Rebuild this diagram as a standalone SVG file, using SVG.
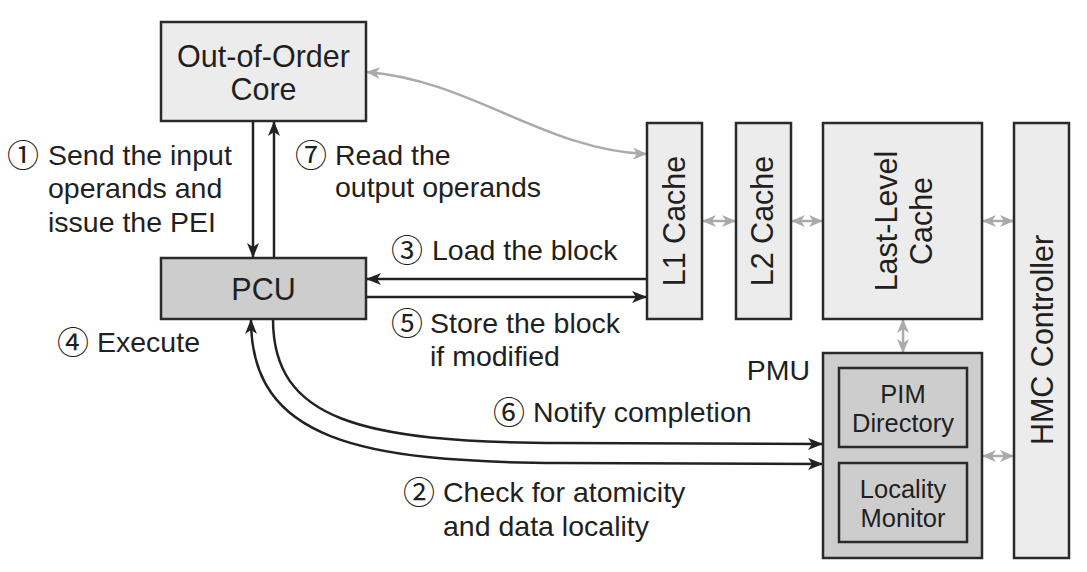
<svg xmlns="http://www.w3.org/2000/svg" width="1087" height="572" viewBox="0 0 1087 572">
<style>
.box{fill:#ececec;stroke:#2a2a2a;stroke-width:2.5}
.dark{fill:#cdcdcd;stroke:#2a2a2a;stroke-width:2.5}
.nt{font-family:"Liberation Sans","Noto Sans CJK JP",sans-serif;font-size:30.5px;fill:#231f20;text-anchor:middle}
.sm{font-family:"Liberation Sans","Noto Sans CJK JP",sans-serif;font-size:25.5px;fill:#231f20;text-anchor:middle}
.lb{font-family:"Liberation Sans","Noto Sans CJK JP",sans-serif;font-size:28.5px;fill:#231f20}
.cd{font-size:32px}
.blk{fill:none;stroke:#222;stroke-width:2.5}
.gry{fill:none;stroke:#aaa;stroke-width:2.5}
</style>
<defs>
<marker id="ab" markerUnits="userSpaceOnUse" markerWidth="15" markerHeight="12" refX="14" refY="6" orient="auto-start-reverse" viewBox="0 0 15 12">
<path d="M0,0 L15,6 L0,12 L4,6 z" fill="#222"/>
</marker>
<marker id="ag" markerUnits="userSpaceOnUse" markerWidth="14" markerHeight="12" refX="13" refY="6" orient="auto-start-reverse" viewBox="0 0 14 12">
<path d="M0,0 L14,6 L0,12 L4,6 z" fill="#aaa"/>
</marker>
</defs>
<rect width="1087" height="572" fill="#fff"/>

<g id="connectors">
<path class="blk" d="M253,121 L253,257" marker-end="url(#ab)"/>
<path class="blk" d="M274,258 L274,122" marker-end="url(#ab)"/>
<path class="blk" d="M647,279 L367,279" marker-end="url(#ab)"/>
<path class="blk" d="M366,297 L646,297" marker-end="url(#ab)"/>
<path class="blk" d="M273,319 C273,420 360,442 560,443 L822,444" marker-end="url(#ab)"/>
<path class="blk" d="M251,320 C251,440 360,462 560,463 L822,464" marker-start="url(#ab)" marker-end="url(#ab)"/>
<path class="gry" d="M367,72 C470,80 545,150 646,154" marker-start="url(#ag)" marker-end="url(#ag)"/>
<path class="gry" d="M703,221 L735,221" marker-start="url(#ag)" marker-end="url(#ag)"/>
<path class="gry" d="M792,221 L822,221" marker-start="url(#ag)" marker-end="url(#ag)"/>
<path class="gry" d="M983,221 L1013,221" marker-start="url(#ag)" marker-end="url(#ag)"/>
<path class="gry" d="M903,320 L903,352" marker-start="url(#ag)" marker-end="url(#ag)"/>
<path class="gry" d="M983,456 L1013,456" marker-start="url(#ag)" marker-end="url(#ag)"/>
</g>

<g id="core">
<rect class="box" x="161" y="22" width="205" height="99"/>
<text class="nt" x="263.5" y="67">Out-of-Order</text>
<text class="nt" x="263.5" y="100">Core</text>
</g>
<g id="pcu">
<rect class="dark" x="161" y="258" width="205" height="61"/>
<text class="nt" x="263.5" y="300">PCU</text>
</g>
<g id="l1">
<rect class="box" x="647" y="123" width="55" height="196"/>
<text class="nt" transform="translate(685,221) rotate(-90)">L1 Cache</text>
</g>
<g id="l2">
<rect class="box" x="736" y="123" width="55" height="196"/>
<text class="nt" transform="translate(773,221) rotate(-90)">L2 Cache</text>
</g>
<g id="llc">
<rect class="box" x="823" y="123" width="159" height="196"/>
<text class="nt" transform="translate(897,221) rotate(-90)">Last-Level</text>
<text class="nt" transform="translate(932,221) rotate(-90)">Cache</text>
</g>
<g id="hmc">
<rect class="box" x="1014" y="123" width="55" height="435"/>
<text class="nt" transform="translate(1053,340) rotate(-90)">HMC Controller</text>
</g>
<g id="pmu">
<rect class="dark" x="823" y="353" width="159" height="205"/>
<text class="lb" x="810" y="380" text-anchor="end">PMU</text>
</g>
<g id="pimdir">
<rect class="dark" x="839" y="368" width="128" height="79"/>
<text class="sm" x="903" y="403">PIM</text>
<text class="sm" x="903" y="432">Directory</text>
</g>
<g id="locmon">
<rect class="dark" x="839" y="463" width="128" height="79"/>
<text class="sm" x="903" y="498">Locality</text>
<text class="sm" x="903" y="527">Monitor</text>
</g>

<g id="labels">
<text class="lb"><tspan class="cd" x="7" y="167">①</tspan><tspan x="48" y="165">Send the input</tspan><tspan x="48" y="198">operands and</tspan><tspan x="48" y="232">issue the PEI</tspan></text>
<text class="lb"><tspan class="cd" x="295" y="167">⑦</tspan><tspan x="335" y="165">Read the</tspan><tspan x="335" y="197">output operands</tspan></text>
<text class="lb"><tspan class="cd" x="391" y="262">③</tspan><tspan x="432" y="260">Load the block</tspan></text>
<text class="lb"><tspan class="cd" x="57" y="354">④</tspan><tspan x="97" y="352">Execute</tspan></text>
<text class="lb"><tspan class="cd" x="391" y="335">⑤</tspan><tspan x="430" y="333">Store the block</tspan><tspan x="430" y="366">if modified</tspan></text>
<text class="lb"><tspan class="cd" x="493" y="424">⑥</tspan><tspan x="533" y="422">Notify completion</tspan></text>
<text class="lb"><tspan class="cd" x="403" y="504">②</tspan><tspan x="443" y="502">Check for atomicity</tspan><tspan x="443" y="536">and data locality</tspan></text>
</g>
</svg>
